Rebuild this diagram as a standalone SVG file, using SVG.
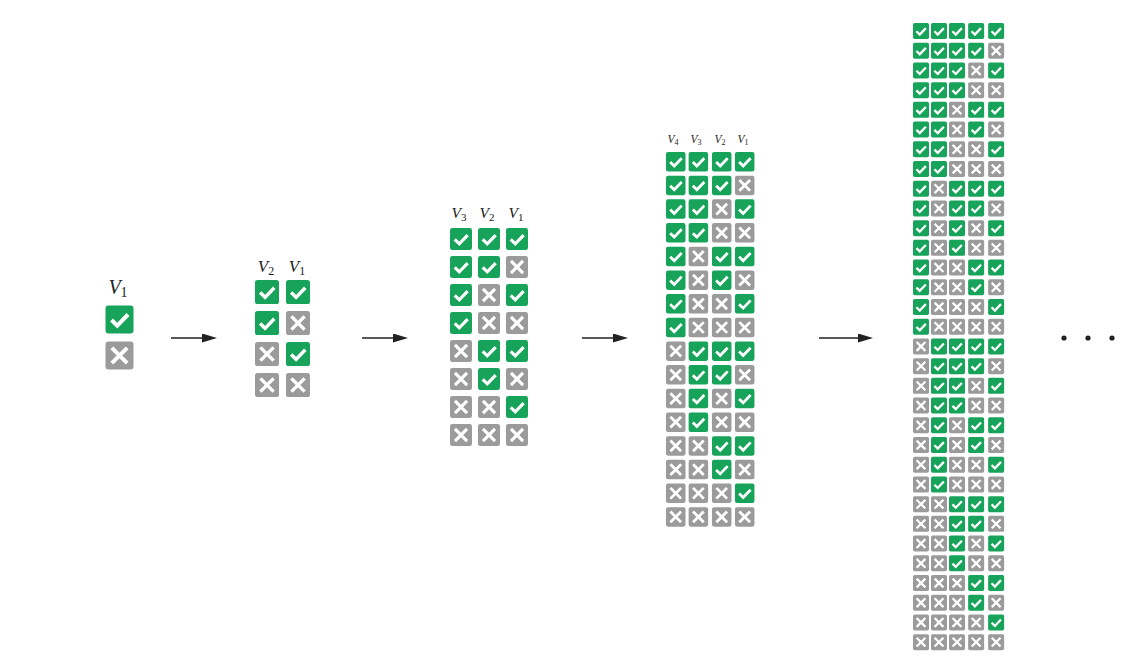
<svg xmlns="http://www.w3.org/2000/svg" xmlns:xlink="http://www.w3.org/1999/xlink" width="1148" height="669" viewBox="0 0 1148 669">
<style>
.g{fill:#17a45a}
.r{fill:#9b9b9b}
.m{fill:none;stroke:#fff;stroke-width:4;stroke-linecap:butt;stroke-linejoin:miter}
.lbl{font-family:"Liberation Serif","DejaVu Serif",serif;fill:#222;text-anchor:middle}
.v{font-style:italic}
.arr{stroke:#222;stroke-width:1.5;fill:none}
</style>
<defs>
<g id="c"><rect class="g" width="28" height="28" rx="3"/><path class="m" d="M6 14.5 L11.8 20.2 L22.5 9"/></g>
<g id="x"><rect class="r" width="28" height="28" rx="3"/><path class="m" d="M6.3 6.3 L21.7 21.7 M21.7 6.3 L6.3 21.7"/></g>
<marker id="ah" markerUnits="userSpaceOnUse" markerWidth="16" markerHeight="10" refX="9" refY="4.5" orient="auto"><path d="M0 0 L15 4.5 L0 9 Z" fill="#222"/></marker>
</defs>

<g id="stage1">
<text class="lbl" x="118" y="294" font-size="20"><tspan class="v">V</tspan><tspan font-size="14" dy="3">1</tspan></text>
<g transform="translate(105.5,305.5)">
<use href="#c" x="0" y="0"/>
<use href="#x" x="0" y="36"/>
</g>
</g>

<g id="stage2">
<text class="lbl" x="266" y="272" font-size="17"><tspan class="v">V</tspan><tspan font-size="12" dy="3">2</tspan></text>
<text class="lbl" x="297" y="272" font-size="17"><tspan class="v">V</tspan><tspan font-size="12" dy="3">1</tspan></text>
<g transform="translate(255,280) scale(0.857143)">
<use href="#c" x="0" y="0"/><use href="#c" x="36.17" y="0"/>
<use href="#c" x="0" y="36.17"/><use href="#x" x="36.17" y="36.17"/>
<use href="#x" x="0" y="72.33"/><use href="#c" x="36.17" y="72.33"/>
<use href="#x" x="0" y="108.5"/><use href="#x" x="36.17" y="108.5"/>
</g>
</g>

<g id="stage3">
<text class="lbl" x="459" y="218" font-size="15.5"><tspan class="v">V</tspan><tspan font-size="11" dy="3">3</tspan></text>
<text class="lbl" x="487" y="218" font-size="15.5"><tspan class="v">V</tspan><tspan font-size="11" dy="3">2</tspan></text>
<text class="lbl" x="516" y="218" font-size="15.5"><tspan class="v">V</tspan><tspan font-size="11" dy="3">1</tspan></text>
<g transform="translate(450,228) scale(0.785714)">
<use href="#c" x="0" y="0"/><use href="#c" x="35.64" y="0"/><use href="#c" x="71.27" y="0"/>
<use href="#c" x="0" y="35.64"/><use href="#c" x="35.64" y="35.64"/><use href="#x" x="71.27" y="35.64"/>
<use href="#c" x="0" y="71.27"/><use href="#x" x="35.64" y="71.27"/><use href="#c" x="71.27" y="71.27"/>
<use href="#c" x="0" y="106.91"/><use href="#x" x="35.64" y="106.91"/><use href="#x" x="71.27" y="106.91"/>
<use href="#x" x="0" y="142.55"/><use href="#c" x="35.64" y="142.55"/><use href="#c" x="71.27" y="142.55"/>
<use href="#x" x="0" y="178.18"/><use href="#c" x="35.64" y="178.18"/><use href="#x" x="71.27" y="178.18"/>
<use href="#x" x="0" y="213.82"/><use href="#x" x="35.64" y="213.82"/><use href="#c" x="71.27" y="213.82"/>
<use href="#x" x="0" y="249.45"/><use href="#x" x="35.64" y="249.45"/><use href="#x" x="71.27" y="249.45"/>
</g>
</g>

<g id="stage4">
<text class="lbl" x="673" y="143" font-size="11.5"><tspan class="v">V</tspan><tspan font-size="8" dy="2">4</tspan></text>
<text class="lbl" x="696" y="143" font-size="11.5"><tspan class="v">V</tspan><tspan font-size="8" dy="2">3</tspan></text>
<text class="lbl" x="720" y="143" font-size="11.5"><tspan class="v">V</tspan><tspan font-size="8" dy="2">2</tspan></text>
<text class="lbl" x="743" y="143" font-size="11.5"><tspan class="v">V</tspan><tspan font-size="8" dy="2">1</tspan></text>
<g transform="translate(666,152) scale(0.696429)">
<use href="#c" x="0" y="0"/><use href="#c" x="32.5" y="0"/><use href="#c" x="66" y="0"/><use href="#c" x="99" y="0"/>
<use href="#c" x="0" y="34"/><use href="#c" x="32.5" y="34"/><use href="#c" x="66" y="34"/><use href="#x" x="99" y="34"/>
<use href="#c" x="0" y="68"/><use href="#c" x="32.5" y="68"/><use href="#x" x="66" y="68"/><use href="#c" x="99" y="68"/>
<use href="#c" x="0" y="102"/><use href="#c" x="32.5" y="102"/><use href="#x" x="66" y="102"/><use href="#x" x="99" y="102"/>
<use href="#c" x="0" y="136"/><use href="#x" x="32.5" y="136"/><use href="#c" x="66" y="136"/><use href="#c" x="99" y="136"/>
<use href="#c" x="0" y="170"/><use href="#x" x="32.5" y="170"/><use href="#c" x="66" y="170"/><use href="#x" x="99" y="170"/>
<use href="#c" x="0" y="204"/><use href="#x" x="32.5" y="204"/><use href="#x" x="66" y="204"/><use href="#c" x="99" y="204"/>
<use href="#c" x="0" y="238"/><use href="#x" x="32.5" y="238"/><use href="#x" x="66" y="238"/><use href="#x" x="99" y="238"/>
<use href="#x" x="0" y="272"/><use href="#c" x="32.5" y="272"/><use href="#c" x="66" y="272"/><use href="#c" x="99" y="272"/>
<use href="#x" x="0" y="306"/><use href="#c" x="32.5" y="306"/><use href="#c" x="66" y="306"/><use href="#x" x="99" y="306"/>
<use href="#x" x="0" y="340"/><use href="#c" x="32.5" y="340"/><use href="#x" x="66" y="340"/><use href="#c" x="99" y="340"/>
<use href="#x" x="0" y="374"/><use href="#c" x="32.5" y="374"/><use href="#x" x="66" y="374"/><use href="#x" x="99" y="374"/>
<use href="#x" x="0" y="408"/><use href="#x" x="32.5" y="408"/><use href="#c" x="66" y="408"/><use href="#c" x="99" y="408"/>
<use href="#x" x="0" y="442"/><use href="#x" x="32.5" y="442"/><use href="#c" x="66" y="442"/><use href="#x" x="99" y="442"/>
<use href="#x" x="0" y="476"/><use href="#x" x="32.5" y="476"/><use href="#x" x="66" y="476"/><use href="#c" x="99" y="476"/>
<use href="#x" x="0" y="510"/><use href="#x" x="32.5" y="510"/><use href="#x" x="66" y="510"/><use href="#x" x="99" y="510"/>
</g>
</g>

<g id="stage5">
<g transform="translate(913,23) scale(0.571429)">
<use href="#c" x="0" y="0"/><use href="#c" x="31.5" y="0"/><use href="#c" x="63" y="0"/><use href="#c" x="96.5" y="0"/><use href="#c" x="131.5" y="0"/>
<use href="#c" x="0" y="34.5"/><use href="#c" x="31.5" y="34.5"/><use href="#c" x="63" y="34.5"/><use href="#c" x="96.5" y="34.5"/><use href="#x" x="131.5" y="34.5"/>
<use href="#c" x="0" y="69"/><use href="#c" x="31.5" y="69"/><use href="#c" x="63" y="69"/><use href="#x" x="96.5" y="69"/><use href="#c" x="131.5" y="69"/>
<use href="#c" x="0" y="103.5"/><use href="#c" x="31.5" y="103.5"/><use href="#c" x="63" y="103.5"/><use href="#x" x="96.5" y="103.5"/><use href="#x" x="131.5" y="103.5"/>
<use href="#c" x="0" y="138"/><use href="#c" x="31.5" y="138"/><use href="#x" x="63" y="138"/><use href="#c" x="96.5" y="138"/><use href="#c" x="131.5" y="138"/>
<use href="#c" x="0" y="172.5"/><use href="#c" x="31.5" y="172.5"/><use href="#x" x="63" y="172.5"/><use href="#c" x="96.5" y="172.5"/><use href="#x" x="131.5" y="172.5"/>
<use href="#c" x="0" y="207"/><use href="#c" x="31.5" y="207"/><use href="#x" x="63" y="207"/><use href="#x" x="96.5" y="207"/><use href="#c" x="131.5" y="207"/>
<use href="#c" x="0" y="241.5"/><use href="#c" x="31.5" y="241.5"/><use href="#x" x="63" y="241.5"/><use href="#x" x="96.5" y="241.5"/><use href="#x" x="131.5" y="241.5"/>
<use href="#c" x="0" y="276"/><use href="#x" x="31.5" y="276"/><use href="#c" x="63" y="276"/><use href="#c" x="96.5" y="276"/><use href="#c" x="131.5" y="276"/>
<use href="#c" x="0" y="310.5"/><use href="#x" x="31.5" y="310.5"/><use href="#c" x="63" y="310.5"/><use href="#c" x="96.5" y="310.5"/><use href="#x" x="131.5" y="310.5"/>
<use href="#c" x="0" y="345"/><use href="#x" x="31.5" y="345"/><use href="#c" x="63" y="345"/><use href="#x" x="96.5" y="345"/><use href="#c" x="131.5" y="345"/>
<use href="#c" x="0" y="379.5"/><use href="#x" x="31.5" y="379.5"/><use href="#c" x="63" y="379.5"/><use href="#x" x="96.5" y="379.5"/><use href="#x" x="131.5" y="379.5"/>
<use href="#c" x="0" y="414"/><use href="#x" x="31.5" y="414"/><use href="#x" x="63" y="414"/><use href="#c" x="96.5" y="414"/><use href="#c" x="131.5" y="414"/>
<use href="#c" x="0" y="448.5"/><use href="#x" x="31.5" y="448.5"/><use href="#x" x="63" y="448.5"/><use href="#c" x="96.5" y="448.5"/><use href="#x" x="131.5" y="448.5"/>
<use href="#c" x="0" y="483"/><use href="#x" x="31.5" y="483"/><use href="#x" x="63" y="483"/><use href="#x" x="96.5" y="483"/><use href="#c" x="131.5" y="483"/>
<use href="#c" x="0" y="517.5"/><use href="#x" x="31.5" y="517.5"/><use href="#x" x="63" y="517.5"/><use href="#x" x="96.5" y="517.5"/><use href="#x" x="131.5" y="517.5"/>
<use href="#x" x="0" y="552"/><use href="#c" x="31.5" y="552"/><use href="#c" x="63" y="552"/><use href="#c" x="96.5" y="552"/><use href="#c" x="131.5" y="552"/>
<use href="#x" x="0" y="586.5"/><use href="#c" x="31.5" y="586.5"/><use href="#c" x="63" y="586.5"/><use href="#c" x="96.5" y="586.5"/><use href="#x" x="131.5" y="586.5"/>
<use href="#x" x="0" y="621"/><use href="#c" x="31.5" y="621"/><use href="#c" x="63" y="621"/><use href="#x" x="96.5" y="621"/><use href="#c" x="131.5" y="621"/>
<use href="#x" x="0" y="655.5"/><use href="#c" x="31.5" y="655.5"/><use href="#c" x="63" y="655.5"/><use href="#x" x="96.5" y="655.5"/><use href="#x" x="131.5" y="655.5"/>
<use href="#x" x="0" y="690"/><use href="#c" x="31.5" y="690"/><use href="#x" x="63" y="690"/><use href="#c" x="96.5" y="690"/><use href="#c" x="131.5" y="690"/>
<use href="#x" x="0" y="724.5"/><use href="#c" x="31.5" y="724.5"/><use href="#x" x="63" y="724.5"/><use href="#c" x="96.5" y="724.5"/><use href="#x" x="131.5" y="724.5"/>
<use href="#x" x="0" y="759"/><use href="#c" x="31.5" y="759"/><use href="#x" x="63" y="759"/><use href="#x" x="96.5" y="759"/><use href="#c" x="131.5" y="759"/>
<use href="#x" x="0" y="793.5"/><use href="#c" x="31.5" y="793.5"/><use href="#x" x="63" y="793.5"/><use href="#x" x="96.5" y="793.5"/><use href="#x" x="131.5" y="793.5"/>
<use href="#x" x="0" y="828"/><use href="#x" x="31.5" y="828"/><use href="#c" x="63" y="828"/><use href="#c" x="96.5" y="828"/><use href="#c" x="131.5" y="828"/>
<use href="#x" x="0" y="862.5"/><use href="#x" x="31.5" y="862.5"/><use href="#c" x="63" y="862.5"/><use href="#c" x="96.5" y="862.5"/><use href="#x" x="131.5" y="862.5"/>
<use href="#x" x="0" y="897"/><use href="#x" x="31.5" y="897"/><use href="#c" x="63" y="897"/><use href="#x" x="96.5" y="897"/><use href="#c" x="131.5" y="897"/>
<use href="#x" x="0" y="931.5"/><use href="#x" x="31.5" y="931.5"/><use href="#c" x="63" y="931.5"/><use href="#x" x="96.5" y="931.5"/><use href="#x" x="131.5" y="931.5"/>
<use href="#x" x="0" y="966"/><use href="#x" x="31.5" y="966"/><use href="#x" x="63" y="966"/><use href="#c" x="96.5" y="966"/><use href="#c" x="131.5" y="966"/>
<use href="#x" x="0" y="1000.5"/><use href="#x" x="31.5" y="1000.5"/><use href="#x" x="63" y="1000.5"/><use href="#c" x="96.5" y="1000.5"/><use href="#x" x="131.5" y="1000.5"/>
<use href="#x" x="0" y="1035"/><use href="#x" x="31.5" y="1035"/><use href="#x" x="63" y="1035"/><use href="#x" x="96.5" y="1035"/><use href="#c" x="131.5" y="1035"/>
<use href="#x" x="0" y="1069.5"/><use href="#x" x="31.5" y="1069.5"/><use href="#x" x="63" y="1069.5"/><use href="#x" x="96.5" y="1069.5"/><use href="#x" x="131.5" y="1069.5"/>
</g>
</g>

<g id="connectors">
<line class="arr" x1="171" y1="338" x2="211" y2="338" marker-end="url(#ah)"/>
<line class="arr" x1="362" y1="338" x2="402" y2="338" marker-end="url(#ah)"/>
<line class="arr" x1="582" y1="338" x2="622" y2="338" marker-end="url(#ah)"/>
<line class="arr" x1="819" y1="338" x2="867" y2="338" marker-end="url(#ah)"/>
</g>

<g id="ellipsis" fill="#222">
<circle cx="1064" cy="338" r="2.6"/>
<circle cx="1088" cy="338" r="2.6"/>
<circle cx="1112" cy="338" r="2.6"/>
</g>
</svg>
